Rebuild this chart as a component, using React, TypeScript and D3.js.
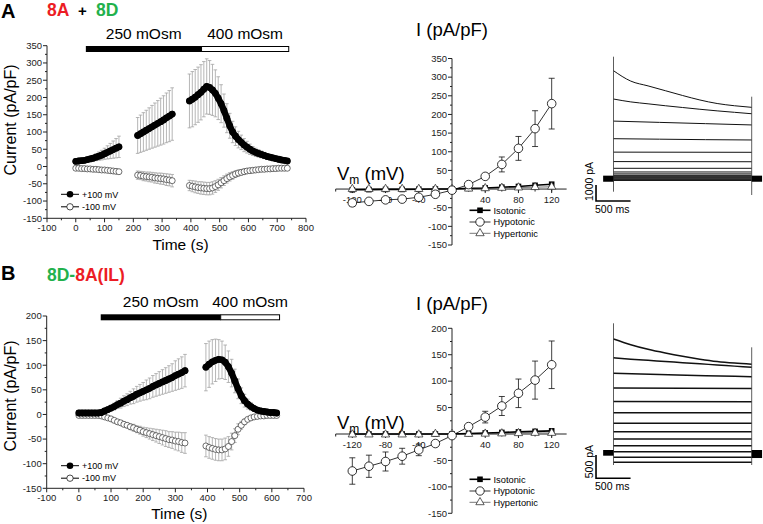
import React from "react";
import * as d3 from "d3";

const FONT = "'Liberation Sans', Arial, Helvetica, sans-serif";
const RED = "#ec1c24";
const GREEN = "#22b14c";

// ---------- A (8A + 8D) time course, pA/pF ----------
const aT1 = [0, 10, 20, 30, 40, 50, 60, 70, 80, 90, 100, 110, 120, 130, 140, 150];
const aPos1 = [15, 16, 17, 18, 20, 22, 24, 27, 30, 33, 37, 41, 45, 49, 53, 57];
const aPosErr1 = [3, 3, 4, 5, 6, 7, 8, 10, 12, 14, 16, 19, 22, 25, 28, 31];
const aNeg1 = [-5, -5, -6, -6, -7, -7, -8, -8, -9, -10, -10, -11, -12, -13, -14, -15];
const aNegErr1 = [2, 2, 2, 3, 3, 3, 3, 4, 4, 4, 5, 5, 5, 6, 6, 6];

const aT2 = [215, 225, 235, 245, 255, 265, 275, 285, 295, 305, 315, 325, 335];
const aPos2 = [90, 95, 100, 105, 110, 115, 120, 125, 130, 135, 141, 146, 152];
const aPosErr2 = [52, 54, 56, 58, 60, 62, 64, 66, 68, 70, 72, 74, 76];
const aNeg2 = [-25, -26, -28, -29, -30, -31, -33, -34, -35, -36, -38, -39, -41];
const aNegErr2 = [12, 12, 13, 13, 14, 14, 15, 15, 16, 16, 17, 17, 18];

const aT3 = [395, 405, 415, 425, 435, 445, 455, 465, 475, 485, 495, 505, 515, 525, 535, 545, 555, 565,
  575, 585, 595, 605, 615, 625, 635, 645, 655, 665, 675, 685, 695, 705, 715, 725, 735];
const aPos3 = [190, 195, 201, 208, 215, 224, 232, 229, 222, 212, 198, 182, 162, 140, 118, 100, 88, 78,
  70, 62, 56, 50, 45, 41, 38, 35, 32, 29, 27, 25, 23, 21, 19, 18, 16];
const aPosErr3 = [78, 80, 80, 80, 80, 80, 80, 78, 74, 68, 62, 55, 48, 42, 36, 31, 27, 24,
  21, 19, 17, 15, 13, 12, 11, 10, 9, 8, 7, 6, 5, 5, 4, 4, 3];
const aNeg3 = [-55, -57, -59, -61, -62, -63, -64, -64, -62, -58, -53, -47, -41, -35, -30, -26, -22, -19,
  -17, -15, -13, -12, -11, -10, -9, -8, -8, -7, -7, -6, -6, -5, -5, -5, -5];
const aNegErr3 = [15, 16, 17, 17, 18, 18, 18, 18, 18, 17, 16, 15, 14, 13, 12, 11, 10, 9,
  8, 8, 7, 7, 6, 6, 5, 5, 5, 4, 4, 4, 4, 3, 3, 3, 3];

// ---------- B (8D-8A(IL)) time course ----------
const bT1 = [0, 10, 20, 30, 40, 50, 60, 70, 80, 90, 100, 110, 120, 130, 140, 150, 160, 170, 180, 190,
  200, 210, 220, 230, 240, 250, 260, 270, 280, 290, 300, 310, 320, 330];
const bPos1 = [3, 3, 3, 3, 3, 3, 3, 4, 7, 10, 13, 16, 20, 23, 27, 30, 34, 37, 41, 44,
  47, 50, 53, 57, 60, 63, 66, 69, 72, 75, 79, 82, 85, 89];
const bPosErr1 = [2, 2, 2, 2, 2, 2, 2, 3, 4, 5, 6, 7, 8, 10, 11, 12, 13, 15, 16, 17,
  18, 20, 21, 22, 23, 24, 25, 26, 27, 28, 30, 31, 32, 33];
const bNeg1 = [-2, -2, -2, -2, -2, -2, -2, -3, -5, -7, -9, -12, -15, -17, -20, -22, -25, -27, -30, -32,
  -35, -37, -39, -41, -43, -45, -47, -49, -51, -52, -54, -55, -57, -58];
const bNegErr1 = [1, 1, 1, 1, 1, 1, 1, 1, 2, 2, 3, 3, 4, 4, 5, 5, 6, 7, 7, 8,
  9, 10, 11, 12, 13, 14, 15, 16, 16, 17, 18, 19, 20, 21];

const bT2 = [395, 405, 415, 425, 435, 445, 455, 465, 475, 485, 495, 505, 515, 525, 535, 545, 555, 565,
  575, 585, 595, 605, 615];
const bPos2 = [96, 102, 107, 110, 112, 111, 106, 97, 84, 68, 52, 38, 28, 21, 16, 12, 9, 7, 6, 5, 4, 4, 3];
const bPosErr2 = [48, 47, 45, 43, 40, 38, 35, 32, 28, 24, 20, 16, 13, 10, 8, 6, 5, 4, 3, 3, 2, 2, 2];
const bNeg2 = [-64, -67, -69, -71, -72, -72, -70, -65, -55, -43, -30, -22, -15, -10, -7, -5, -4, -3, -3, -2, -2, -2, -2];
const bNegErr2 = [22, 22, 22, 22, 22, 22, 22, 20, 17, 14, 11, 8, 6, 4, 3, 3, 2, 2, 2, 2, 2, 2, 2];

// ---------- I-V curves ----------
const ivV = [-120, -100, -80, -60, -40, -20, 0, 20, 40, 60, 80, 100, 120];
const ivAIso = [-2, -1.5, -1, -1, -0.5, 0, 0, 2, 3, 5, 7, 10, 13];
const ivAHypo = [-37, -33, -29, -27, -22, -14, -3, 12, 34, 66, 109, 162, 229];
const ivAHypoErr = [9, 7, 5, 4, 3, 3, 2, 3, 5, 20, 32, 48, 68];
const ivAHyper = [0, 0, 0, 0, 0, 0, 0, 1, 2, 3, 4, 5, 6];
const ivBIso = [0, 0, 0, 0, 0, 0, 0, 1, 2, 3, 4, 5, 6];
const ivBHypo = [-70, -61, -52, -42, -30, -18, -3, 14, 32, 53, 77, 102, 131];
const ivBHypoErr = [25, 21, 18, 15, 11, 5, 2, 3, 11, 18, 27, 36, 45];
const ivBHyper = [-1, -1, -1, -1, -1, 0, 0, 0, 0.5, 1, 1.5, 2, 2];

// ---------- current traces (pA), each spread over the 2000 ms pulse ----------
const tracesA = [
  [6750, 6100, 5800, 5500, 5200, 4920, 4700, 4560, 4460],
  [4980, 4800, 4680, 4560, 4450, 4340, 4240, 4150, 4060],
  [3600, 3520, 3440, 3360],
  [2500, 2470, 2440, 2420],
  [1660, 1650], [1070, 1060], [650, 650], [420, 420], [300, 300],
  [210, 210], [150, 150], [90, 90], [40, 40], [-10, -10], [-60, -60], [-110, -110],
];
const tracesB = [
  [2442, 2320, 2220, 2140, 2070, 2010, 1960, 1925, 1899],
  [2041, 2010, 1985, 1960, 1935, 1910, 1885, 1860, 1835],
  [1706, 1680, 1655, 1633],
  [1390, 1380], [1100, 1095], [861, 861], [633, 633], [453, 453], [296, 296],
  [152, 152], [24, 24], [-97, -97], [-204, -204],
];

type Seg = { t: number[]; pos: number[]; posErr: number[]; neg: number[]; negErr: number[] };
const segsA: Seg[] = [
  { t: aT1, pos: aPos1, posErr: aPosErr1, neg: aNeg1, negErr: aNegErr1 },
  { t: aT2, pos: aPos2, posErr: aPosErr2, neg: aNeg2, negErr: aNegErr2 },
  { t: aT3, pos: aPos3, posErr: aPosErr3, neg: aNeg3, negErr: aNegErr3 },
];
const segsB: Seg[] = [
  { t: bT1, pos: bPos1, posErr: bPosErr1, neg: bNeg1, negErr: bNegErr1 },
  { t: bT2, pos: bPos2, posErr: bPosErr2, neg: bNeg2, negErr: bNegErr2 },
];

function TimeCourse(props: any) {
  const { segs, xDom, xRange, yDom, yRange, xStep, yStep, bar, barY, legendY, yLabelY, xLabelY } = props;
  const x = d3.scaleLinear().domain(xDom).range(xRange);
  const y = d3.scaleLinear().domain(yDom).range(yRange);
  const axX = xRange[0];
  const axY = yRange[0];
  const xt = d3.range(xDom[0], xDom[1] + 1, xStep);
  const yt = d3.range(yDom[0], yDom[1] + 1, yStep);
  const xm = d3.range(xDom[0] + xStep / 2, xDom[1], xStep);
  const ym = d3.range(yDom[0] + yStep / 2, yDom[1], yStep);
  const path = (t: number[], m: number[]) =>
    d3.line<number>().x((_, i) => x(t[i])).y((d) => y(d))(m) as string;
  const errs = (t: number[], m: number[], e: number[], key: string) =>
    t.map((ti, i) => {
      const cx = x(ti);
      return (
        <g key={key + i} stroke="#a3a3a3" strokeWidth={0.8}>
          <line x1={cx} x2={cx} y1={y(m[i] - e[i])} y2={y(m[i] + e[i])} />
          <line x1={cx - 1.8} x2={cx + 1.8} y1={y(m[i] + e[i])} y2={y(m[i] + e[i])} />
          <line x1={cx - 1.8} x2={cx + 1.8} y1={y(m[i] - e[i])} y2={y(m[i] - e[i])} />
        </g>
      );
    });
  const [b0, b1, b2] = bar;
  return (
    <g fontFamily={FONT} fontWeight="normal">
      {/* osmolarity bar */}
      <rect x={x(b0)} y={barY} width={x(b1) - x(b0)} height={6} fill="#000" />
      <rect x={x(b1)} y={barY + 0.5} width={x(b2) - x(b1)} height={5} fill="#fff" stroke="#000" strokeWidth={1} />
      <text x={(x(b0) + x(b1)) / 2} y={barY - 7} fontSize={15.5} textAnchor="middle">250 mOsm</text>
      <text x={(x(b1) + x(b2)) / 2} y={barY - 7} fontSize={15.5} textAnchor="middle">400 mOsm</text>
      {/* axes */}
      <line x1={axX} x2={axX} y1={y(yDom[1])} y2={axY} stroke="#222" />
      <line x1={axX} x2={x(xDom[1])} y1={axY} y2={axY} stroke="#222" />
      {yt.map((v: number) => (
        <g key={"yt" + v}>
          <line x1={axX - 4} x2={axX} y1={y(v)} y2={y(v)} stroke="#222" />
          <text x={axX - 5} y={y(v) + 3.3} fontSize={9.5} textAnchor="end" fill="#222">{v}</text>
        </g>
      ))}
      {ym.map((v: number) => <line key={"ym" + v} x1={axX - 2} x2={axX} y1={y(v)} y2={y(v)} stroke="#222" />)}
      {xt.map((v: number) => (
        <g key={"xt" + v}>
          <line x1={x(v)} x2={x(v)} y1={axY} y2={axY + 4} stroke="#222" />
          <text x={x(v)} y={axY + 13} fontSize={9.5} textAnchor="middle" fill="#222">{v}</text>
        </g>
      ))}
      {xm.map((v: number) => <line key={"xm" + v} x1={x(v)} x2={x(v)} y1={axY} y2={axY + 2} stroke="#222" />)}
      <text transform={`translate(16,${yLabelY}) rotate(-90)`} fontSize={16} textAnchor="middle">Current (pA/pF)</text>
      <text x={(xRange[0] + xRange[1]) / 2 + 4} y={xLabelY} fontSize={15.5} textAnchor="middle">Time (s)</text>
      {/* data: error bars, then -100 mV, then +100 mV on top */}
      {segs.map((s: Seg, k: number) => <g key={"e" + k}>{errs(s.t, s.pos, s.posErr, "p")}{errs(s.t, s.neg, s.negErr, "n")}</g>)}
      {segs.map((s: Seg, k: number) => (
        <g key={"n" + k}>
          <path d={path(s.t, s.neg)} fill="none" stroke="#555" strokeWidth={0.8} />
          {s.t.map((ti, i) => (
            <circle key={i} cx={x(ti)} cy={y(s.neg[i])} r={3} fill="#fff" stroke="#333" strokeWidth={0.7} />
          ))}
        </g>
      ))}
      {segs.map((s: Seg, k: number) => (
        <g key={"p" + k}>
          <path d={path(s.t, s.pos)} fill="none" stroke="#000" strokeWidth={6.4} strokeLinejoin="round" strokeLinecap="round" />
          {s.t.map((ti, i) => (
            <circle key={i} cx={x(ti)} cy={y(s.pos[i])} r={3.4} fill="#000" />
          ))}
        </g>
      ))}
      {/* legend */}
      <line x1={61} x2={79} y1={legendY} y2={legendY} stroke="#000" />
      <circle cx={70} cy={legendY} r={3.3} fill="#000" />
      <text x={82} y={legendY + 3.2} fontSize={9}>+100 mV</text>
      <line x1={61} x2={79} y1={legendY + 12.5} y2={legendY + 12.5} stroke="#000" />
      <circle cx={70} cy={legendY + 12.5} r={3.2} fill="#fff" stroke="#000" strokeWidth={0.7} />
      <text x={82} y={legendY + 15.7} fontSize={9}>-100 mV</text>
    </g>
  );
}

function IVPlot(props: any) {
  const { yDom, yRange, iso, hypo, hypoErr, hyper, iLabelY, vLabelY, legendY } = props;
  const x = d3.scaleLinear().domain([-140, 140]).range([335.7, 568.3]);
  const y = d3.scaleLinear().domain(yDom).range(yRange);
  const ax = x(0);
  const ay = y(0);
  const line = d3.line<number>().x((_, i) => x(ivV[i])).y((d) => y(d));
  const tri = d3.symbol(d3.symbolTriangle, 30)() as string;
  const yt = d3.range(yDom[0], yDom[1] + 1, 50);
  const ym = d3.range(yDom[0] + 25, yDom[1], 50);
  const xt = d3.range(-120, 121, 40);
  const xm = d3.range(-140, 139, 20);
  return (
    <g fontFamily={FONT} fontWeight="normal">
      <line x1={ax} x2={ax} y1={y(yDom[1])} y2={y(yDom[0])} stroke="#222" />
      <line x1={x(-140)} x2={x(138)} y1={ay} y2={ay} stroke="#222" />
      {yt.map((v: number) => (
        <g key={"y" + v}>
          <line x1={ax - 4} x2={ax} y1={y(v)} y2={y(v)} stroke="#222" />
          {v !== 0 && <text x={ax - 5} y={y(v) + 3.3} fontSize={9.5} textAnchor="end" fill="#222">{v}</text>}
        </g>
      ))}
      {ym.map((v: number) => <line key={"m" + v} x1={ax - 2} x2={ax} y1={y(v)} y2={y(v)} stroke="#222" />)}
      {xm.map((v: number) => <line key={"xm" + v} x1={x(v)} x2={x(v)} y1={ay} y2={ay + 2.5} stroke="#222" />)}
      {xt.map((v: number) => (
        v !== 0 ? (
          <g key={"x" + v}>
            <line x1={x(v)} x2={x(v)} y1={ay} y2={ay + 4} stroke="#222" />
            <text x={x(v)} y={ay + 13.5} fontSize={9.5} textAnchor="middle" fill="#222">{v}</text>
          </g>
        ) : null
      ))}
      <text x={ax} y={iLabelY} fontSize={18.5} textAnchor="middle">I (pA/pF)</text>
      <text x={337} y={vLabelY} fontSize={18.5}>
        V<tspan fontSize={12} dy={4}>m</tspan><tspan dy={-4}> (mV)</tspan>
      </text>
      {/* error bars */}
      {ivV.map((v, i) => (
        <g key={"e" + i} stroke="#111" strokeWidth={0.8}>
          <line x1={x(v)} x2={x(v)} y1={y(hypo[i] - hypoErr[i])} y2={y(hypo[i] + hypoErr[i])} />
          <line x1={x(v) - 3} x2={x(v) + 3} y1={y(hypo[i] + hypoErr[i])} y2={y(hypo[i] + hypoErr[i])} />
          <line x1={x(v) - 3} x2={x(v) + 3} y1={y(hypo[i] - hypoErr[i])} y2={y(hypo[i] - hypoErr[i])} />
        </g>
      ))}
      <path d={line(hyper) as string} fill="none" stroke="#777" strokeWidth={1} />
      <path d={line(iso) as string} fill="none" stroke="#000" strokeWidth={1.6} />
      <path d={line(hypo) as string} fill="none" stroke="#000" strokeWidth={0.8} />
      {ivV.map((v, i) => (
        <rect key={"s" + i} x={x(v) - 2.8} y={y(iso[i]) - 2.8} width={5.6} height={5.6} fill="#000" />
      ))}
      {ivV.map((v, i) => (
        <path key={"t" + i} d={tri} transform={`translate(${x(v)},${y(hyper[i])})`} fill="#fff" stroke="#333" strokeWidth={0.8} />
      ))}
      {ivV.map((v, i) => (
        <circle key={"c" + i} cx={x(v)} cy={y(hypo[i])} r={4.3} fill="#fff" stroke="#000" strokeWidth={0.8} />
      ))}
      {/* legend */}
      <line x1={469.5} x2={490.5} y1={legendY[0]} y2={legendY[0]} stroke="#000" strokeWidth={1.6} />
      <rect x={477.2} y={legendY[0] - 2.8} width={5.6} height={5.6} fill="#000" />
      <text x={493.5} y={legendY[0] + 3.3} fontSize={9.3}>Isotonic</text>
      <line x1={469.5} x2={490.5} y1={legendY[1]} y2={legendY[1]} stroke="#000" strokeWidth={0.8} />
      <circle cx={480} cy={legendY[1]} r={4.2} fill="#fff" stroke="#000" strokeWidth={0.8} />
      <text x={493.5} y={legendY[1] + 3.3} fontSize={9.3}>Hypotonic</text>
      <line x1={469.5} x2={490.5} y1={legendY[2]} y2={legendY[2]} stroke="#777" />
      <path d={tri} transform={`translate(480,${legendY[2]})`} fill="#fff" stroke="#333" strokeWidth={0.8} />
      <text x={493.5} y={legendY[2] + 3.3} fontSize={9.3}>Hypertonic</text>
    </g>
  );
}

function Traces(props: any) {
  const { traces, yZero, px1000, transL, transR, hold, barCorner, barPa, barLabel, sw } = props;
  const x = d3.scaleLinear().domain([0, 2000]).range([613.5, 751.7]);
  const y = d3.scaleLinear().domain([0, 1000]).range([yZero, yZero - px1000]);
  const line = d3.line<[number, number]>().x((d) => x(d[0])).y((d) => y(d[1])).curve(d3.curveMonotoneX);
  const [cT, cI] = barCorner;
  return (
    <g fontFamily={FONT} fontWeight="normal">
      {traces.map((tr: number[], k: number) => (
        <path key={k} d={line(tr.map((v, i) => [(i / (tr.length - 1)) * 2000, v] as [number, number])) as string}
          fill="none" stroke="#111" strokeWidth={sw} />
      ))}
      <line x1={x(0)} x2={x(0)} y1={y(transL[0])} y2={y(transL[1])} stroke="#333" strokeWidth={0.8} />
      <line x1={x(2000)} x2={x(2000)} y1={y(transR[0])} y2={y(transR[1])} stroke="#333" strokeWidth={0.8} />
      <rect x={x(-150)} y={y(hold[0][0])} width={x(0) - x(-150)} height={y(hold[0][1]) - y(hold[0][0])} fill="#000" />
      <rect x={x(2000)} y={y(hold[1][0])} width={x(2150) - x(2000)} height={y(hold[1][1]) - y(hold[1][0])} fill="#000" />
      {/* scale bar */}
      <path d={`M${x(cT)},${y(cI + barPa)}V${y(cI)}H${x(cT + 500)}`} fill="none" stroke="#000" strokeWidth={1.6} />
      <text x={x(cT) - 1} y={y(cI) + 12} fontSize={10.5}>500 ms</text>
      <text transform={`translate(${x(cT) - 3},${y(cI)}) rotate(-90)`} fontSize={10.5}>{barLabel}</text>
    </g>
  );
}

export default function App() {
  return (
    <div style={{ position: "absolute", left: 0, top: 0 }}>
      <svg width={763} height={524} style={{ display: "block", background: "#fff" }}>
        <g fontFamily={FONT} fontWeight="bold">
          <text x={1} y={18} fontSize={20}>A</text>
          <text x={47} y={16} fontSize={17.5} fill={RED}>8A</text>
          <text x={78} y={16} fontSize={15}>+</text>
          <text x={96} y={16} fontSize={17.5} fill={GREEN}>8D</text>
          <text x={1} y={280} fontSize={20}>B</text>
          <text x={47} y={280.5} fontSize={17.5}>
            <tspan fill={GREEN}>8D-</tspan><tspan fill={RED}>8A(IL)</tspan>
          </text>
        </g>
        <TimeCourse segs={segsA} xDom={[-100, 800]} xRange={[47, 306]} yDom={[-150, 350]} yRange={[218.3, 45.7]}
          xStep={100} yStep={50} bar={[35, 437, 740]} barY={46} legendY={194.3} yLabelY={120} xLabelY={250} />
        <TimeCourse segs={segsB} xDom={[-100, 700]} xRange={[46.7, 304]} yDom={[-150, 200]} yRange={[488.3, 316]}
          xStep={100} yStep={50} bar={[68, 441, 624]} barY={314.3} legendY={465.7} yLabelY={396} xLabelY={519} />
        <IVPlot yDom={[-150, 350]} yRange={[245, 58.5]} iso={ivAIso} hypo={ivAHypo} hypoErr={ivAHypoErr}
          hyper={ivAHyper} iLabelY={36} vLabelY={180} legendY={[210.3, 222, 233.3]} />
        <IVPlot yDom={[-150, 200]} yRange={[513.3, 328.3]} iso={ivBIso} hypo={ivBHypo} hypoErr={ivBHypoErr}
          hyper={ivBHyper} iLabelY={310} vLabelY={428.5} legendY={[479.3, 491, 502.3]} />
        <Traces traces={tracesA} yZero={178.7} px1000={16} transL={[7625, -812]} transR={[5125, -1019]}
          hold={[[190, -190], [190, -190]]} barCorner={[-253, -1394]} barPa={1000} barLabel="1000 pA" sw={1} />
        <Traces traces={tracesB} yZero={452.8} px1000={46.6} transL={[2779, -262]} transR={[2264, -262]}
          hold={[[60, -62], [60, -112]]} barCorner={[-253, -547]} barPa={500} barLabel="500 pA" sw={1.5} />
      </svg>
    </div>
  );
}
